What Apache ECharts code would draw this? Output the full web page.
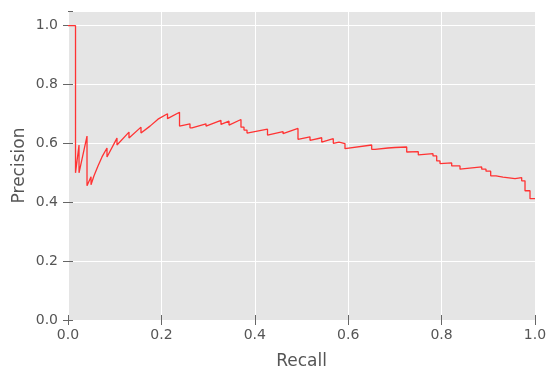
<!DOCTYPE html>
<html>
<head>
<meta charset="utf-8">
<script src="https://cdn.jsdelivr.net/npm/echarts@6/dist/echarts.min.js"></script>
<style>html,body{margin:0;padding:0;background:#fff}#c{width:554px;height:380px}</style>
</head>
<body>
<div id="c"></div>
<script>
var recall = [0,0.0161,0.0161,0.0236,0.0236,0.0407,0.0407,0.0493,0.0493,0.0557,0.0642,0.0728,0.0835,0.0835,0.1049,0.1049,0.1306,0.1306,0.1563,0.1563,0.1756,0.1927,0.2131,0.2131,0.2388,0.2388,0.2612,0.2612,0.2655,0.2655,0.2955,0.2955,0.3276,0.3276,0.3448,0.3448,0.3704,0.3704,0.3769,0.3769,0.3833,0.3833,0.4272,0.4272,0.4604,0.4604,0.4925,0.4925,0.5182,0.5182,0.5433,0.5433,0.5681,0.5681,0.5803,0.5803,0.5931,0.5931,0.6503,0.6503,0.6574,0.6574,0.6852,0.6852,0.7002,0.7253,0.7253,0.7501,0.7501,0.7816,0.7816,0.7895,0.7895,0.7966,0.7966,0.8216,0.8216,0.8394,0.8394,0.8859,0.8859,0.8951,0.8951,0.9051,0.9051,0.9165,0.9165,0.9315,0.9315,0.9572,0.9715,0.9715,0.9786,0.9786,0.9893,0.9893,1.0];
var precision = [1.0,1.0,0.5,0.5946,0.5,0.625,0.4561,0.4865,0.4595,0.4899,0.5236,0.5541,0.5845,0.5541,0.6182,0.5946,0.6385,0.6182,0.6554,0.6351,0.6588,0.6824,0.7010,0.6841,0.7061,0.6588,0.6666,0.6530,0.6530,0.6463,0.6666,0.6588,0.6780,0.6645,0.6757,0.6622,0.6814,0.6554,0.6554,0.6453,0.6453,0.6351,0.6486,0.6284,0.6402,0.6334,0.6510,0.6139,0.6226,0.6105,0.6193,0.6047,0.6159,0.6003,0.6047,0.5980,0.5997,0.5821,0.5946,0.5801,0.5801,0.5743,0.5845,0.5811,0.5861,0.5878,0.5709,0.5720,0.5608,0.5652,0.5574,0.5574,0.5405,0.5405,0.5314,0.5338,0.5236,0.5236,0.5125,0.5203,0.5125,0.5125,0.5057,0.5057,0.4899,0.4899,0.4855,0.4855,0.4797,0.4807,0.4841,0.4730,0.4730,0.4392,0.4392,0.4122,0.4122];
var xTicks = [0, 0.2, 0.4, 0.6, 0.8, 1.0];
var yTicks = [0, 0.2, 0.4, 0.6, 0.8, 1.0];

var pts = recall.map(function (r, i) { return [r, precision[i]]; });
var font = 'DejaVu Sans';
var tickStyle = { show: true, inside: false, length: 5, lineStyle: { color: '#666', width: 1 } };
var chart = echarts.init(document.getElementById('c'), null, { renderer: 'canvas' });
chart.setOption({
  animation: false,
  backgroundColor: '#ffffff',
  grid: { left: 68, right: 19, top: 11, bottom: 60, show: true, backgroundColor: '#E5E5E5', borderWidth: 0 },
  xAxis: [{
    type: 'value', min: 0, max: 1, interval: 0.2, position: 'bottom',
    name: 'Recall', nameLocation: 'middle', nameGap: 33, nameMoveOverlap: false,
    nameTextStyle: { fontFamily: font, fontSize: 17, color: '#555' },
    axisLine: { show: false }, axisTick: tickStyle,
    axisLabel: { fontFamily: font, fontSize: 14, color: '#555', margin: 8, formatter: function (v) { return v.toFixed(1); } },
    splitLine: { show: true, lineStyle: { color: '#ffffff', width: 1 } }
  }, {
    type: 'value', min: 0, max: 1, interval: 0.2, position: 'top',
    axisLine: { show: false }, axisTick: tickStyle, axisLabel: { show: false }, splitLine: { show: false }
  }],
  yAxis: [{
    type: 'value', min: 0, max: 1.05, interval: 0.2, position: 'left',
    name: 'Precision', nameLocation: 'middle', nameGap: 40, nameMoveOverlap: false,
    nameTextStyle: { fontFamily: font, fontSize: 17, color: '#555' },
    axisLine: { show: false }, axisTick: tickStyle,
    axisLabel: { fontFamily: font, fontSize: 14, color: '#555', margin: 10, showMaxLabel: false,
      formatter: function (v) { return yTicks.indexOf(Math.round(v * 10) / 10) >= 0 && Math.abs(v - Math.round(v * 10) / 10) < 1e-6 ? v.toFixed(1) : ''; } },
    splitLine: { show: true, lineStyle: { color: '#ffffff', width: 1 } }
  }, {
    type: 'value', min: 0, max: 1.05, interval: 0.2, position: 'right',
    axisLine: { show: false }, axisTick: tickStyle, axisLabel: { show: false }, splitLine: { show: false }
  }],
  series: [{
    type: 'line', data: pts, xAxisIndex: 0, yAxisIndex: 0,
    showSymbol: false, symbol: 'none',
    lineStyle: { color: '#FF3333', width: 1.3 }
  }]
});
</script>
</body>
</html>
